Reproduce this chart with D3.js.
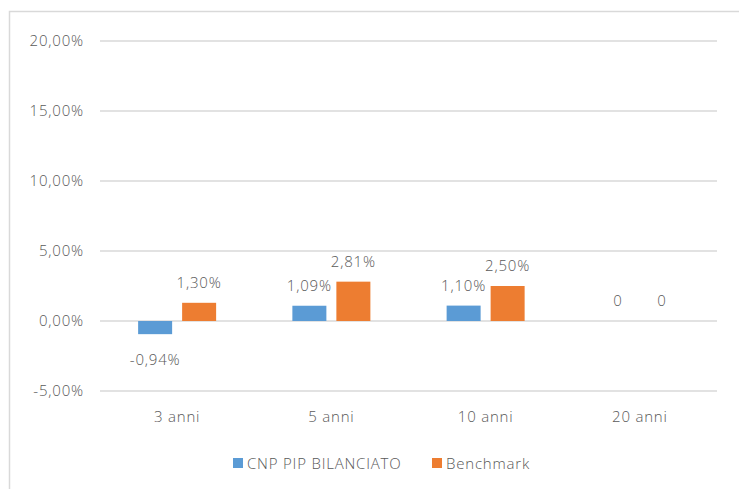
<!doctype html>
<html>
<head>
<meta charset="utf-8">
<script src="https://d3js.org/d3.v7.min.js"></script>
<style>
  body { margin: 0; background: #fff; }
  svg text { font-family: "Open Sans", "Lato", sans-serif; font-weight: 300; fill: #595959; letter-spacing: 0.8px; }
</style>
</head>
<body>
<div id="chart"></div>
<script>
const categories = ["3 anni", "5 anni", "10 anni", "20 anni"];
const fund = [-0.94, 1.09, 1.10, 0];
const benchmark = [1.30, 2.81, 2.50, 0];
const seriesNames = ["CNP PIP BILANCIATO", "Benchmark"];
const yTicks = [-5, 0, 5, 10, 15, 20];

const width = 739, height = 489;
const plotLeft = 100, plotRight = 717, plotTop = 41, plotBottom = 391;
const colors = ["#5b9bd5", "#ed7d31"];
const fontSize = 15;

const fmt = v => v.toFixed(2).replace(".", ",") + "%";

const svg = d3.select("#chart").append("svg")
    .attr("width", width)
    .attr("height", height);

// chart frame
svg.append("rect")
    .attr("x", 9.5).attr("y", 11.5)
    .attr("width", 740).attr("height", 490)
    .attr("fill", "none")
    .attr("stroke", "#d9d9d9")
    .attr("stroke-width", 1.5);

const x = d3.scaleBand().domain(categories).range([plotLeft, plotRight]);
const y = d3.scaleLinear().domain([-5, 20]).range([plotBottom, plotTop]);

svg.selectAll("line.grid")
    .data(yTicks)
    .enter().append("line")
    .attr("class", "grid")
    .attr("x1", plotLeft).attr("x2", plotRight)
    .attr("y1", d => y(d)).attr("y2", d => y(d))
    .attr("stroke", "#d9d9d9")
    .attr("stroke-width", 1.5);

svg.selectAll("text.ytick")
    .data(yTicks)
    .enter().append("text")
    .attr("class", "ytick")
    .attr("x", 84)
    .attr("y", d => y(d))
    .attr("dy", "0.35em")
    .attr("text-anchor", "end")
    .attr("font-size", fontSize)
    .text(d => fmt(d));

svg.selectAll("text.xtick")
    .data(categories)
    .enter().append("text")
    .attr("class", "xtick")
    .attr("x", d => x(d) + x.bandwidth() / 2)
    .attr("y", 422)
    .attr("text-anchor", "middle")
    .attr("font-size", fontSize)
    .text(d => d);

const barW = 34, gap = 10;
const series = [fund, benchmark];

series.forEach(function (vals, s) {
    const off = s === 0 ? -gap / 2 - barW : gap / 2;
    const cx = d => x(d) + x.bandwidth() / 2 + off;

    svg.selectAll("rect.s" + s)
        .data(categories.map((c, i) => ({ c: c, v: vals[i] })))
        .enter().append("rect")
        .attr("class", "s" + s)
        .attr("x", d => cx(d.c))
        .attr("y", d => y(Math.max(0, d.v)))
        .attr("width", barW)
        .attr("height", d => Math.abs(y(d.v) - y(0)))
        .attr("fill", colors[s]);

    svg.selectAll("text.l" + s)
        .data(categories.map((c, i) => ({ c: c, v: vals[i] })))
        .enter().append("text")
        .attr("class", "l" + s)
        .attr("x", d => cx(d.c) + barW / 2)
        .attr("y", d => d.v < 0 ? y(d.v) + 31 : y(d.v) - 15)
        .attr("text-anchor", "middle")
        .attr("font-size", fontSize)
        .text(d => d.v === 0 ? "0" : fmt(d.v));
});

// legend
const legendX = [233, 432];
seriesNames.forEach(function (name, s) {
    svg.append("rect")
        .attr("x", legendX[s]).attr("y", 458)
        .attr("width", 10).attr("height", 10)
        .attr("fill", colors[s]);
    svg.append("text")
        .attr("x", legendX[s] + 14).attr("y", 469)
        .attr("font-size", fontSize)
        .text(name);
});
</script>
</body>
</html>
